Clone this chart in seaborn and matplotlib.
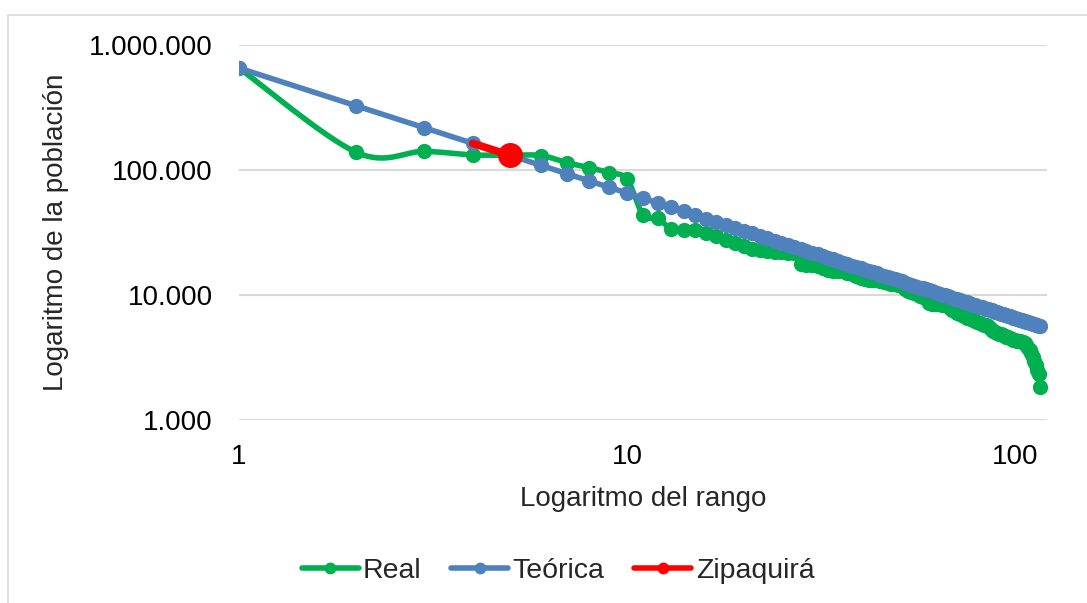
import numpy as np
import pandas as pd
import matplotlib
matplotlib.use("Agg")
import matplotlib.pyplot as plt
import seaborn as sns
from matplotlib.lines import Line2D
from matplotlib.patches import Rectangle
from matplotlib.ticker import FixedLocator, NullLocator, FixedFormatter

# ---------------- data ----------------
rangos = list(range(1, 117))

real = [654000, 139000, 141000, 132000, 131500, 130500, 114400, 104300, 95100, 84300,
        43600, 41000, 33700, 33100, 33000, 31300, 29800, 27500, 26000, 24700,
        23500, 22800, 22300, 22100, 21900, 21800, 21600, 17600, 17500, 17400,
        17000, 16500, 15900, 15700, 15600, 15500, 14900, 14600, 14200, 13800,
        13500, 13300, 13200, 13100, 12900, 12700, 12500, 12350, 12200, 12000,
        11700, 11200, 10800, 10600, 10400, 10200, 9900, 9600, 9400, 8700,
        8550, 8500, 8450, 8400, 8350, 8300, 8200, 7800, 7600, 7400,
        7200, 7100, 6900, 6750, 6600, 6500, 6400, 6300, 6200, 6100,
        6000, 5900, 5800, 5750, 5600, 5400, 5250, 5150, 5050, 4950,
        4900, 4850, 4780, 4700, 4640, 4580, 4520, 4460, 4400, 4350,
        4320, 4290, 4260, 4240, 4200, 4100, 3950, 3800, 3630, 3450,
        3200, 2950, 2750, 2500, 2350, 1820]

teorica = [654000, 327000, 218000, 163500, 130800, 109000, 93429, 81750, 72667, 65400,
           59455, 54500, 50308, 46714, 43600, 40875, 38471, 36333, 34421, 32700,
           31143, 29727, 28435, 27250, 26160, 25154, 24222, 23357, 22552, 21800,
           21097, 20438, 19818, 19235, 18686, 18167, 17676, 17211, 16769, 16350,
           15951, 15571, 15209, 14864, 14533, 14217, 13915, 13625, 13347, 13080,
           12824, 12577, 12340, 12111, 11891, 11679, 11474, 11276, 11085, 10900,
           10721, 10548, 10381, 10219, 10062, 9909, 9761, 9618, 9478, 9343,
           9211, 9083, 8959, 8838, 8720, 8605, 8494, 8385, 8278, 8175,
           8074, 7976, 7880, 7786, 7694, 7605, 7517, 7432, 7348, 7267,
           7187, 7109, 7032, 6957, 6884, 6813, 6742, 6673, 6606, 6540,
           6475, 6412, 6350, 6288, 6229, 6170, 6112, 6056, 6000, 5945,
           5892, 5839, 5788, 5737, 5687, 5638]

zipa_rango = [4, 5]
zipa_pob = [163500, 131000]

series_names = ["Real", "Teórica", "Zipaquirá"]
ytick_vals = [1000, 10000, 100000, 1000000]
ytick_labels = ["1.000", "10.000", "100.000", "1.000.000"]
xtick_vals = [1, 10, 100]
xtick_labels = ["1", "10", "100"]

GREEN = "#00B050"
BLUE = "#4F81BD"
RED = "#FF0000"


def excel_smooth(x, y, n=16, sx=388.0, sy=125.0):
    """Bezier smoothing (Excel-like) computed in log display space."""
    X = np.log10(np.asarray(x, float)) * sx
    Y = np.log10(np.asarray(y, float)) * sy
    P = np.column_stack([X, Y])
    Pp = np.vstack([P[0], P, P[-1]])
    t = np.linspace(0, 1, n, endpoint=False)[:, None]
    out = []
    for i in range(len(P) - 1):
        p0, p1, p2, p3 = Pp[i], Pp[i + 1], Pp[i + 2], Pp[i + 3]
        c1 = p1 + (p2 - p0) / 6.0
        c2 = p2 - (p3 - p1) / 6.0
        seg = ((1 - t) ** 3) * p1 + 3 * ((1 - t) ** 2) * t * c1 + 3 * (1 - t) * t ** 2 * c2 + t ** 3 * p2
        out.append(seg)
    out.append(P[-1:])
    Q = np.vstack(out)
    return 10 ** (Q[:, 0] / sx), 10 ** (Q[:, 1] / sy)


sns.set_style("white")
plt.rcParams["font.family"] = ["Liberation Sans", "DejaVu Sans"]

W, H = 1087, 603
fig = plt.figure(figsize=(W / 100, H / 100), dpi=100)
fig.patch.set_facecolor("white")

# chart-area border
fig.add_artist(Rectangle((8 / W, -0.02), 1.1, 1 - 15 / H + 0.02, transform=fig.transFigure,
                         fill=False, edgecolor="#D9D9D9", lw=1.2))

ax = fig.add_axes([239 / W, 1 - 420 / H, (1047 - 239) / W, (420 - 45) / H])
ax.set_xscale("log")
ax.set_yscale("log")

df_real = pd.DataFrame({"rango": rangos, "pob": real})
df_teo = pd.DataFrame({"rango": rangos, "pob": teorica})
df_zip = pd.DataFrame({"rango": zipa_rango, "pob": zipa_pob})

sx, sy = excel_smooth(df_real["rango"], df_real["pob"])
df_smooth = pd.DataFrame({"x": sx, "y": sy})

LW = 4.0
MS = 11
# Real
sns.lineplot(data=df_smooth, x="x", y="y", sort=False, estimator=None, color=GREEN,
             lw=LW, ax=ax, zorder=3)
sns.scatterplot(data=df_real, x="rango", y="pob", color=GREEN, s=MS ** 2, linewidth=0,
                ax=ax, zorder=3)
# Teórica
sns.lineplot(data=df_teo, x="rango", y="pob", sort=False, estimator=None, color=BLUE,
             lw=LW, marker="o", markersize=MS, markeredgewidth=0, ax=ax, zorder=4)
# Zipaquirá
sns.lineplot(data=df_zip, x="rango", y="pob", sort=False, estimator=None, color=RED,
             lw=5.5, ax=ax, zorder=5)
sns.scatterplot(x=df_zip["rango"].iloc[-1:], y=df_zip["pob"].iloc[-1:], color=RED,
                s=18 ** 2, linewidth=0, ax=ax, zorder=6)

ax.set_xlim(1, 120.9)
ax.set_ylim(1000, 1000000)

ax.xaxis.set_major_locator(FixedLocator(xtick_vals))
ax.xaxis.set_major_formatter(FixedFormatter(xtick_labels))
ax.xaxis.set_minor_locator(NullLocator())
ax.yaxis.set_major_locator(FixedLocator(ytick_vals))
ax.yaxis.set_major_formatter(FixedFormatter(ytick_labels))
ax.yaxis.set_minor_locator(NullLocator())

ax.tick_params(axis="both", length=0, labelsize=20, colors="black")
ax.tick_params(axis="y", pad=19)
ax.tick_params(axis="x", pad=17)

ax.yaxis.grid(True, color="#D9D9D9", lw=1.5)
ax.xaxis.grid(False)
ax.set_axisbelow(True)
for s in ax.spines.values():
    s.set_visible(False)

ax.set_xlabel("Logaritmo del rango", fontsize=20, labelpad=12)
ax.set_ylabel("Logaritmo de la población", fontsize=20, labelpad=14)

handles = [Line2D([0], [0], color=c, lw=4.0, marker="o", markersize=8.5, markeredgewidth=0)
           for c in (GREEN, BLUE, RED)]
fig.legend(handles, series_names, loc="center", bbox_to_anchor=(558 / W, 1 - 571 / H),
           ncol=3, frameon=False, fontsize=20.5, handlelength=2.0, handletextpad=0.15,
           columnspacing=1.05)

fig.savefig("out.png", dpi=100, facecolor="white")
